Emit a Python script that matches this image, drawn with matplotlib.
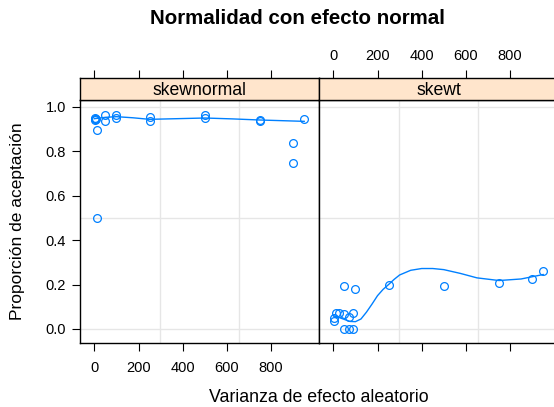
import matplotlib

matplotlib.use("Agg")
import matplotlib.pyplot as plt

plt.rcParams["font.family"] = ["Liberation Sans", "DejaVu Sans"]

# points per panel: variance of the random effect vs. acceptance proportion
sn_x = [1, 2, 5, 8, 10, 10, 50, 50, 100, 100, 250, 250, 500, 500, 750, 750, 900, 900, 950]
sn_y = [0.945, 0.940, 0.950, 0.945, 0.895, 0.497, 0.963, 0.937, 0.961, 0.950,
        0.953, 0.935, 0.963, 0.947, 0.940, 0.937, 0.836, 0.748, 0.943]

st_x = [1, 3, 10, 25, 50, 70, 90, 50, 70, 90, 50, 100, 250, 500, 750, 900, 950]
st_y = [0.037, 0.048, 0.071, 0.071, 0.066, 0.052, 0.071, 0.0, 0.0, 0.0,
        0.192, 0.178, 0.198, 0.195, 0.207, 0.225, 0.260]

# smoother traces
sn_fit_x = [1, 50, 100, 175, 250, 375, 500, 625, 750, 850, 950]
sn_fit_y = [0.946, 0.952, 0.955, 0.950, 0.943, 0.946, 0.949, 0.945, 0.940, 0.937, 0.934]

st_fit_x = [1, 25, 50, 75, 100, 125, 150, 175, 200, 225, 250, 275, 300, 350,
            400, 450, 500, 575, 650, 750, 850, 950]
st_fit_y = [0.060, 0.052, 0.043, 0.034, 0.033, 0.045, 0.076, 0.112, 0.150, 0.178,
            0.200, 0.223, 0.243, 0.264, 0.272, 0.272, 0.267, 0.250, 0.230, 0.218,
            0.225, 0.245]

panels = ["skewnormal", "skewt"]
xticks = [0, 200, 400, 600, 800]
yticks = [0.0, 0.2, 0.4, 0.6, 0.8, 1.0]

BLUE = "#0080ff"
STRIP = "#ffe5cc"
GRID = "#e6e6e6"
XLIM = (-65, 1017)
YLIM = (-0.063, 1.030)

W, H = 554, 407
fig = plt.figure(figsize=(W / 100, H / 100), dpi=100)


def box(x0, y0, x1, y1):
    # pixel box (top-left origin) -> figure fraction rect
    return [x0 / W, 1 - y1 / H, (x1 - x0) / W, (y1 - y0) / H]


data = [(sn_x, sn_y, sn_fit_x, sn_fit_y), (st_x, st_y, st_fit_x, st_fit_y)]
lefts = [80, 319]

for i, (px, py, fx, fy) in enumerate(data):
    x0 = lefts[i]
    ax = fig.add_axes(box(x0, 100, x0 + 239, 343))
    ax.set_xlim(*XLIM)
    ax.set_ylim(*YLIM)

    for gx in [XLIM[0] + (XLIM[1] - XLIM[0]) / 3, XLIM[0] + 2 * (XLIM[1] - XLIM[0]) / 3]:
        ax.axvline(gx, color=GRID, lw=1, zorder=0)
    for gy in [0.0, 0.5, 1.0]:
        ax.axhline(gy, color=GRID, lw=1, zorder=0)

    ax.plot(px, py, "o", ms=5.6, mfc="none", mec=BLUE, mew=0.9, zorder=3)
    ax.plot(fx, fy, color=BLUE, lw=1, zorder=2)

    ax.set_xticks(xticks)
    ax.tick_params(axis="x", direction="out", length=6, width=0.8, labelsize=10.5, pad=7)
    ax.tick_params(axis="y", direction="out", length=6, width=0.8, labelsize=10.5, pad=4)
    if i == 0:
        ax.set_yticks(yticks)
        ax.set_yticklabels([f"{v:.1f}" for v in yticks])
    else:
        ax.set_yticks([])
        ax.set_xticklabels([])
    for sp in ax.spines.values():
        sp.set_linewidth(1)

    # strip above each panel, carrying the top axis ticks
    sax = fig.add_axes(box(x0, 78.3, x0 + 239, 100))
    sax.set_facecolor(STRIP)
    sax.set_xlim(*XLIM)
    sax.set_ylim(0, 1)
    sax.set_yticks([])
    sax.xaxis.tick_top()
    sax.set_xticks(xticks)
    sax.tick_params(direction="out", length=6, width=0.8, labelsize=10.5, pad=5)
    if i == 0:
        sax.set_xticklabels([])
    sax.text(0.5, 0.45, panels[i], transform=sax.transAxes, ha="center", va="center",
             fontsize=12.7)
    for sp in sax.spines.values():
        sp.set_linewidth(1)

fig.text(297 / W, 1 - 19 / H, "Normalidad con efecto normal", ha="center", va="center",
         fontsize=14.8, fontweight="bold")
fig.text(319 / W, 1 - 397 / H, "Varianza de efecto aleatorio", ha="center", va="center",
         fontsize=12.8)
fig.text(18 / W, 1 - 221 / H, "Proporción de aceptación", ha="center", va="center",
         fontsize=12.5, rotation=90)

fig.savefig("out.png", dpi=100)
